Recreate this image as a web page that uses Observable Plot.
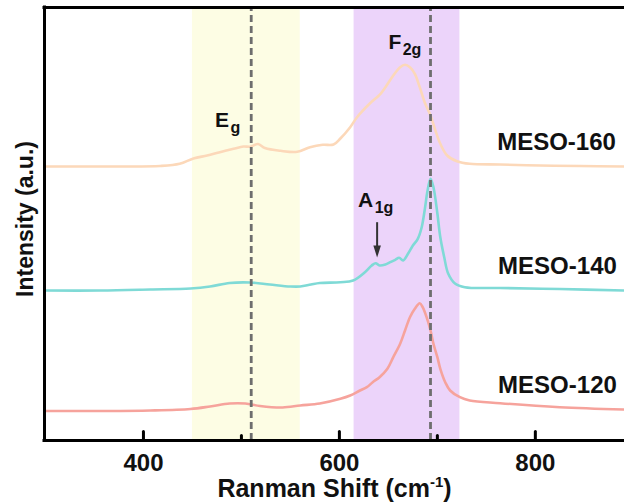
<!DOCTYPE html>
<html>
<head>
<meta charset="utf-8">
<script src="https://cdn.jsdelivr.net/npm/d3@7"></script>
<script src="https://cdn.jsdelivr.net/npm/@observablehq/plot@0.6"></script>
<style>
  body { margin: 0; background: #fff; }
</style>
</head>
<body>
<div id="chart"></div>
<script>
// ---------- data ----------
const seriesNames = ["MESO-160", "MESO-140", "MESO-120"];
const seriesColors = ["#fcd8b9", "#7fdad6", "#f6a39c"];

const meso160Shift = [300,335,376,417,437,451,465,478,492,502,509,517,524,540,557,570,583,594,601,611,618,624,631,642,647,655,662,667,672,677,682,687,693,698,703,710,720,733,764,805,846,890];
const meso160Intensity = [274,274,274,274.5,276.7,282,285,288.3,291.7,294,293.8,296.5,292.5,289.7,288.7,293.3,295.7,296,302,313.3,323.3,330,337,346.7,353.3,365,373.3,375.7,373.3,366.7,353.3,338.3,325,310,296.7,285,279.3,276.7,276,275,274.5,274];

const meso140Shift = [300,356,407,448,468,488,509,529,550,560,571,580,601,614,626,633,637,641,647,652,657,661,665,670,675,680,684,687,690,693,696,700,703,707,711,718,728,764,825,890];
const meso140Intensity = [150,150,151,152,154,157.5,158,156,154,154,156,157.5,158.3,160,168.3,175,177.3,175,176,178.3,180.7,182.7,180,186.7,195,201.7,213.3,230,250,261.7,253.3,227,203.3,183.3,167,157,153.3,152.5,151.5,150];

const meso120Shift = [300,356,407,448,468,488,504,519,542,560,580,601,611,621,628,634,641,649,655,662,667,672,677,682,685,689,693,696,700,703,708,713,723,733,764,825,890];
const meso120Intensity = [29.5,29.5,30,31.5,34,37,37,34.5,33,35,37,41.7,45,50,53.3,58.3,63.3,71.7,83.3,96.7,110,123.3,131.7,137.3,133.3,123.3,110,96.7,83.3,71.7,58.3,50,43.3,40,37.3,33.3,31];

const labelShift = [761, 762, 762];
const labelIntensity = [291, 167, 48];

const bandStart = [450, 615];
const bandEnd = [560, 723];
const bandColors = ["#fdfde4", "#ecd4fa"];

const peakLines = [510, 693];

const modeMain = ["E", "F", "A"];
const modeSub = ["g", "2g", "1g"];
const modeShift = [473, 650, 619];
const modeIntensity = [314, 391.7, 233.3];

const arrowShift = 638.5;
const arrowFrom = 218.3;
const arrowTip = 183;

const majorTicks = [400, 600, 800];
const minorTicks = [500, 700];

const xTitleMain = "Ranman Shift (cm";
const xTitleSup = "-1";
const xTitleEnd = ")";
const yTitle = "Intensity (a.u.)";

const xMin = 299, xMax = 891;
const yMin = 0, yMax = 433;

// ---------- tables ----------
const spectra = [
  {name: seriesNames[0], color: seriesColors[0], pts: meso160Shift.map((s, i) => ({shift: s, intensity: meso160Intensity[i]}))},
  {name: seriesNames[1], color: seriesColors[1], pts: meso140Shift.map((s, i) => ({shift: s, intensity: meso140Intensity[i]}))},
  {name: seriesNames[2], color: seriesColors[2], pts: meso120Shift.map((s, i) => ({shift: s, intensity: meso120Intensity[i]}))}
];
const labels = seriesNames.map((n, i) => ({name: n, x: labelShift[i], y: labelIntensity[i]}));
const bands = bandStart.map((s, i) => ({start: s, end: bandEnd[i], color: bandColors[i]}));
const modes = modeMain.map((m, i) => ({main: m, sub: modeSub[i], x: modeShift[i], y: modeIntensity[i]}));

const tickShape = {draw(context, l) { context.moveTo(0, 0); context.lineTo(0, -l); }};
const font = "'Liberation Sans', Arial, Helvetica, sans-serif";
const ink = "#111";

const plot = Plot.plot({
  width: 624,
  height: 504,
  marginLeft: 44,
  marginRight: 0,
  marginTop: 7,
  marginBottom: 64,
  x: {domain: [xMin, xMax]},
  y: {domain: [yMin, yMax], axis: null},
  style: {fontFamily: font, background: "#fff", color: ink},
  marks: [
    ...bands.map(b => Plot.rect([b], {x1: "start", x2: "end", y1: () => yMin, y2: () => yMax, fill: b.color})),
    ...spectra.map(s => Plot.line(s.pts, {x: "shift", y: "intensity", stroke: s.color, strokeWidth: 2.6, curve: "catmull-rom"})),
    Plot.ruleX(peakLines, {y1: () => yMin, y2: () => yMax, stroke: "#6e6e6e", strokeWidth: 2.8, strokeDasharray: "7,4"}),
    Plot.ruleX([xMin], {y1: () => yMin, y2: () => yMax, stroke: "#000", strokeWidth: 3, strokeLinecap: "square"}),
    Plot.ruleY([yMin, yMax], {stroke: "#000", strokeWidth: 3, strokeLinecap: "square"}),
    Plot.vector(majorTicks, {x: d => d, y: () => yMin, length: 9, anchor: "start", shape: tickShape, stroke: "#000", strokeWidth: 3, fill: "none"}),
    Plot.vector(minorTicks, {x: d => d, y: () => yMin, length: 5, anchor: "start", shape: tickShape, stroke: "#000", strokeWidth: 3, fill: "none"}),
    Plot.axisX({ticks: majorTicks, tickSize: 0, tickPadding: 13, fontSize: 24, fontWeight: "bold", label: null, fill: ink}),
    Plot.text(labels, {x: "x", y: "y", text: "name", textAnchor: "start", lineAnchor: "bottom", fontSize: 24, fontWeight: "bold", fill: ink}),
    Plot.text(modes, {x: "x", y: "y", text: "main", textAnchor: "start", lineAnchor: "bottom", fontSize: 21, fontWeight: "bold", fill: ink}),
    Plot.link([0], {x1: () => arrowShift, x2: () => arrowShift, y1: () => arrowFrom, y2: () => arrowTip + 10, stroke: "#333", strokeWidth: 2}),
    Plot.vector([0], {x: () => arrowShift, y: () => arrowTip, length: 12, rotate: 180, anchor: "end", shape: "spike", r: 3.8, fill: "#333", stroke: "none"}),
    Plot.text([xTitleMain + xTitleSup + xTitleEnd], {frameAnchor: "bottom", dy: 56, lineAnchor: "bottom", fontSize: 25, fontWeight: "bold", fill: ink}),
    Plot.text([yTitle], {frameAnchor: "left", dx: -19, dy: -5, rotate: -90, textAnchor: "middle", lineAnchor: "middle", fontSize: 23, fontWeight: "bold", fill: ink})
  ]
});

const svg = d3.select(plot);
svg.selectAll("text").each(function() {
  const t = d3.select(this);
  const content = this.textContent;
  const k = modeMain.indexOf(content);
  if (k >= 0) {
    t.append("tspan").attr("dx", 1.5).attr("dy", 6).attr("font-size", 16).text(modeSub[k]);
  } else if (content === xTitleMain + xTitleSup + xTitleEnd) {
    t.text(xTitleMain);
    t.append("tspan").attr("dy", -10).attr("font-size", 15).text(xTitleSup);
    t.append("tspan").attr("dy", 10).attr("font-size", 25).text(xTitleEnd);
  }
});

document.getElementById("chart").append(plot);
</script>
</body>
</html>
